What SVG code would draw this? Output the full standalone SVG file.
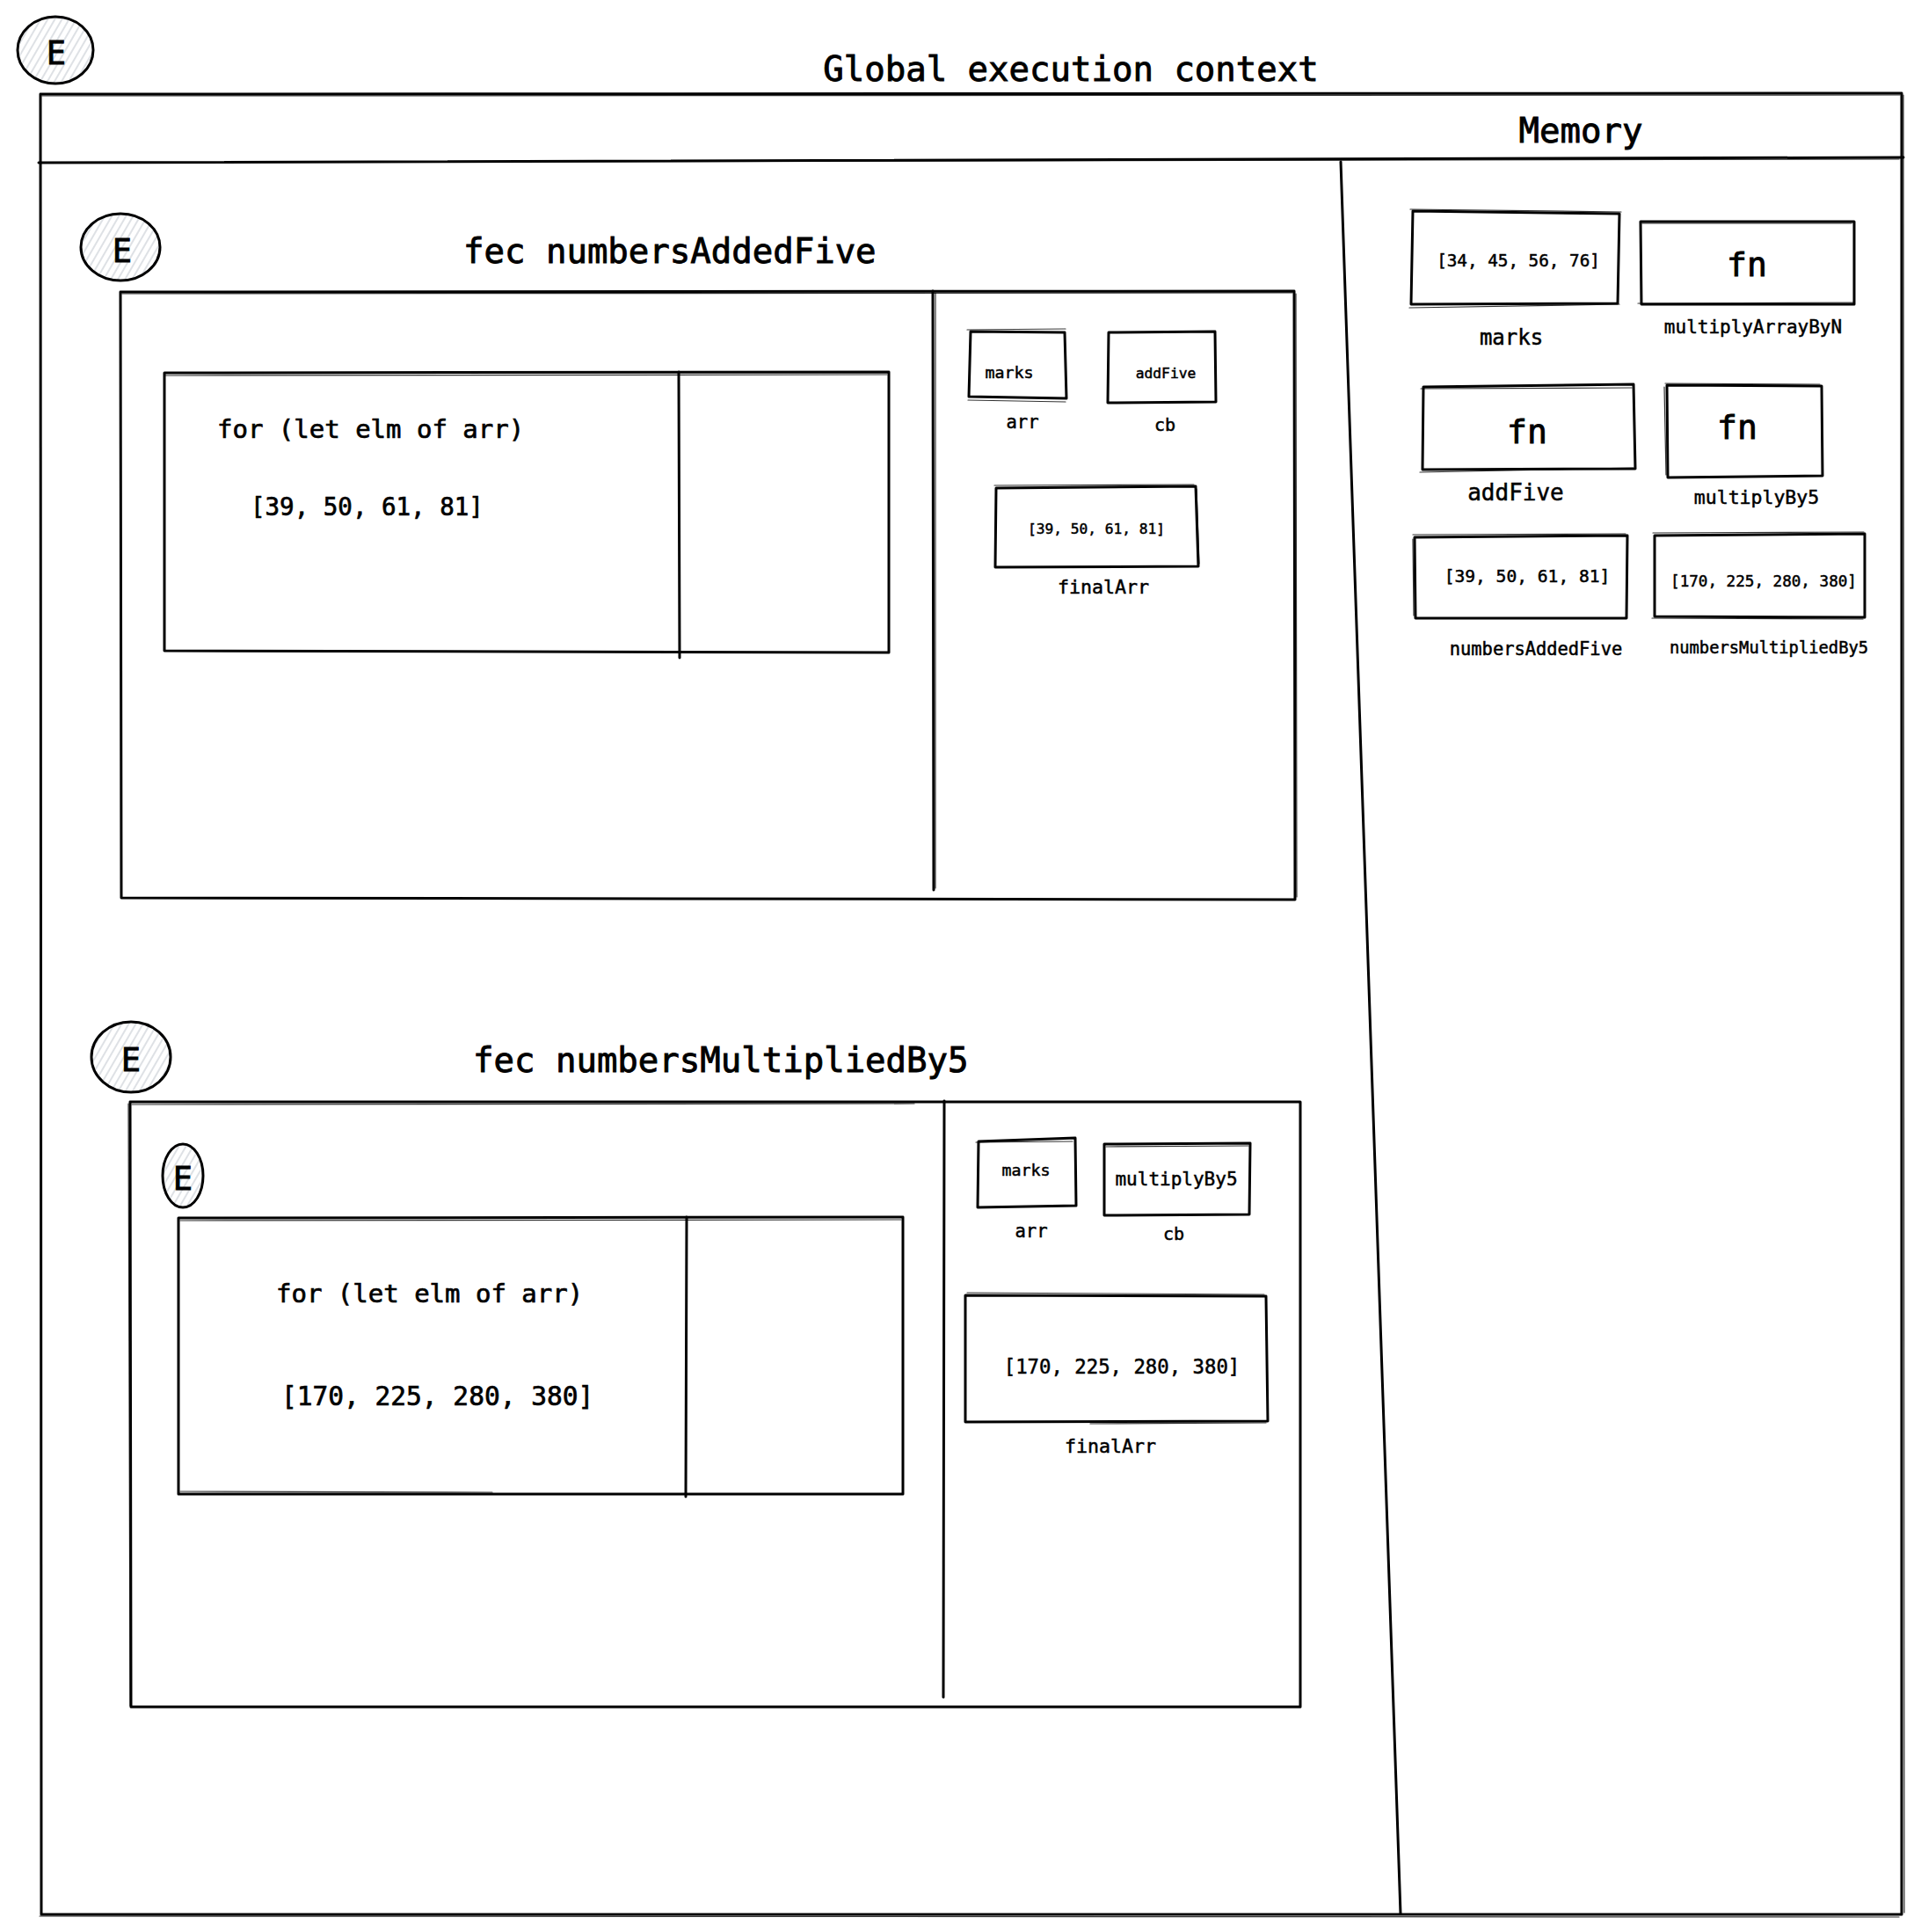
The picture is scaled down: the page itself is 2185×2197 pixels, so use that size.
<svg xmlns="http://www.w3.org/2000/svg" width="2185" height="2197" viewBox="0 0 2185 2197">
<style>
.s{fill:none;stroke:#000;stroke-width:3;stroke-linecap:round;stroke-linejoin:round}
.s2{fill:none;stroke:#000;stroke-width:1.2;stroke-linecap:round;opacity:.8}
.c{fill:url(#hatch);stroke:#000;stroke-width:3}
text{font-family:"DejaVu Sans Mono","Liberation Mono",monospace;fill:#000;stroke:#000;stroke-width:0.5}
.m{text-anchor:middle}
.e{font-size:37px;text-anchor:middle;stroke-width:0.9}
.h{font-size:39px;stroke-width:0.9}
</style>
<defs>
<pattern id="hatch" patternUnits="userSpaceOnUse" width="7" height="7" patternTransform="rotate(30)">
<rect width="7" height="7" fill="#fff"/>
<line x1="2" y1="0" x2="2" y2="7" stroke="#cdd2d8" stroke-width="1.3"/>
</pattern>
</defs>
<rect width="2185" height="2197" fill="#fff"/>

<g id="global-context">
<path class="s" d="M46,107 L2163,106 L2163,2177 L47,2177 Z"/>
<path class="s2" d="M48,109 L2161,108 M2165,108 L2166,2175 M45,2179 L2160,2180"/>
<path class="s" d="M44,185 L2165,179"/>
<path class="s2" d="M520,184 L2160,181"/>
<path class="s" d="M1525,184 L1593,2176"/>
<text class="h m" x="1218" y="92">Global execution context</text>
<text class="h m" x="1798" y="162">Memory</text>
</g>

<g id="e-global">
<ellipse class="c" cx="63" cy="57" rx="43" ry="38"/>
<text class="e" x="64" y="73">E</text>
</g>

<g id="fec-numbersAddedFive">
<ellipse class="c" cx="137" cy="281" rx="45" ry="38"/>
<text class="e" x="139" y="298">E</text>
<text class="h" x="527" y="299">fec numbersAddedFive</text>
<path class="s" d="M137,332 L1472,331 L1473,1023 L138,1021 Z"/>
<path class="s2" d="M139,334 L1470,333 M1474,334 L1475,1020"/>
<path class="s" d="M1061,331 L1062,1012"/>
<path class="s2" d="M1064,333 L1064,1010"/>
<path class="s" d="M187,424 L1011,423 L1011,742 L187,740 Z"/>
<path class="s2" d="M188,427 L1009,426"/>
<path class="s" d="M772,423 L773,748"/>
<text x="247" y="498" style="font-size:29px;stroke-width:0.7px">for (let elm of arr)</text>
<text x="285" y="586" style="font-size:27.5px;stroke-width:0.7px">[39, 50, 61, 81]</text>
</g>

<g id="fec1-arr">
<path class="s" d="M1104,377 L1211,378 L1213,453 L1102,451 Z"/>
<path class="s2" d="M1100,375 L1212,374 M1101,455 L1212,457"/>
<text class="m" x="1148" y="430" style="font-size:18.3px">marks</text>
<text class="m" x="1163" y="487" style="font-size:20.5px">arr</text>
</g>
<g id="fec1-cb">
<path class="s" d="M1261,378 L1382,377 L1383,457 L1260,458 Z"/>
<text class="m" x="1326" y="430" style="font-size:16.3px">addFive</text>
<text class="m" x="1325" y="490" style="font-size:20px">cb</text>
</g>
<g id="fec1-finalArr">
<path class="s" d="M1133,555 L1360,553 L1363,644 L1132,645 Z"/>
<path class="s2" d="M1131,552 L1358,551 M1361,556 L1364,641"/>
<text class="m" x="1247" y="607" style="font-size:16.2px">[39, 50, 61, 81]</text>
<text class="m" x="1255" y="675" style="font-size:21.6px">finalArr</text>
</g>

<g id="fec-numbersMultipliedBy5">
<ellipse class="c" cx="149" cy="1202" rx="45" ry="40"/>
<text class="e" x="149" y="1218">E</text>
<text class="h" x="538" y="1219">fec numbersMultipliedBy5</text>
<path class="s" d="M148,1253 L1479,1253 L1479,1941 L149,1941 Z"/>
<path class="s2" d="M150,1256 L1040,1255 M146,1255 L148,1940"/>
<path class="s" d="M1074,1252 L1073,1930"/>
<path class="s" d="M203,1385 L1027,1384 L1027,1699 L203,1699 Z"/>
<path class="s2" d="M205,1388 L1025,1387 M205,1696 L560,1697"/>
<path class="s" d="M781,1384 L780,1702"/>
<text x="314" y="1481" style="font-size:29px;stroke-width:0.7px">for (let elm of arr)</text>
<text x="320" y="1598" style="font-size:29.5px;stroke-width:0.7px">[170, 225, 280, 380]</text>
</g>

<g id="e-inner-loop">
<ellipse class="c" cx="208" cy="1337" rx="23" ry="36"/>
<text class="e" x="208" y="1353">E</text>
</g>

<g id="fec2-arr">
<path class="s" d="M1113,1298 L1223,1294 L1224,1371 L1112,1373 Z"/>
<path class="s2" d="M1110,1299 L1220,1298"/>
<text class="m" x="1167" y="1337" style="font-size:18.3px">marks</text>
<text class="m" x="1173" y="1407" style="font-size:20.5px">arr</text>
</g>
<g id="fec2-cb">
<path class="s" d="M1256,1301 L1422,1300 L1421,1381 L1256,1382 Z"/>
<path class="s2" d="M1258,1304 L1420,1303"/>
<text class="m" x="1338" y="1348" style="font-size:21px">multiplyBy5</text>
<text class="m" x="1335" y="1410" style="font-size:20px">cb</text>
</g>
<g id="fec2-finalArr">
<path class="s" d="M1098,1473 L1440,1474 L1442,1616 L1098,1617 Z"/>
<path class="s2" d="M1100,1470 L1438,1472 M1240,1619 L1440,1618"/>
<text class="m" x="1276" y="1562" style="font-size:22.3px">[170, 225, 280, 380]</text>
<text class="m" x="1263" y="1652" style="font-size:21.6px">finalArr</text>
</g>

<g id="mem-marks">
<path class="s" d="M1607,240 L1842,243 L1840,345 L1605,346 Z"/>
<path class="s2" d="M1604,238 L1844,241 M1603,350 L1842,346"/>
<text class="m" x="1727" y="303" style="font-size:19.3px">[34, 45, 56, 76]</text>
<text class="m" x="1719" y="392" style="font-size:24px">marks</text>
</g>
<g id="mem-multiplyArrayByN">
<path class="s" d="M1866,252 L2109,252 L2109,346 L1867,346 Z"/>
<path class="s2" d="M1868,254 L2106,254 M1863,345 L2108,344"/>
<text class="m" x="1987" y="314" style="font-size:38px;stroke-width:0.9px">fn</text>
<text class="m" x="1994" y="379" style="font-size:21px">multiplyArrayByN</text>
</g>
<g id="mem-addFive">
<path class="s" d="M1619,440 L1858,437 L1860,533 L1618,534 Z"/>
<path class="s2" d="M1616,442 L1856,441 M1615,537 L1858,532"/>
<text class="m" x="1737" y="504" style="font-size:38px;stroke-width:0.9px">fn</text>
<text class="m" x="1724" y="569" style="font-size:26px">addFive</text>
</g>
<g id="mem-multiplyBy5">
<path class="s" d="M1896,438 L2072,439 L2073,541 L1897,543 Z"/>
<path class="s2" d="M1894,436 L2070,437 M1893,440 L1895,540"/>
<text class="m" x="1976" y="499" style="font-size:38px;stroke-width:0.9px">fn</text>
<text class="m" x="1998" y="573" style="font-size:21.5px">multiplyBy5</text>
</g>
<g id="mem-numbersAddedFive">
<path class="s" d="M1609,611 L1851,609 L1850,703 L1610,703 Z"/>
<path class="s2" d="M1607,608 L1849,607 M1607,613 L1608,700"/>
<text class="m" x="1737" y="662" style="font-size:19.6px">[39, 50, 61, 81]</text>
<text class="m" x="1747" y="745" style="font-size:20.4px">numbersAddedFive</text>
</g>
<g id="mem-numbersMultipliedBy5">
<path class="s" d="M1882,609 L2121,607 L2121,702 L1882,701 Z"/>
<path class="s2" d="M1880,606 L2120,605 M1879,703 L2119,704"/>
<text class="m" x="2006" y="667" style="font-size:17.6px">[170, 225, 280, 380]</text>
<text class="m" x="2012" y="743" style="font-size:18.8px">numbersMultipliedBy5</text>
</g>
</svg>
